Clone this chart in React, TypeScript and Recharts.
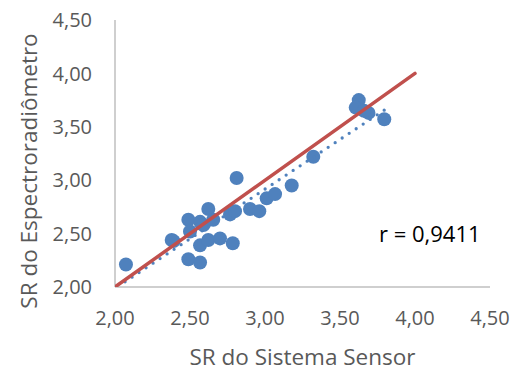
import React from 'react';
import { ScatterChart, Scatter, XAxis, YAxis, Label } from 'recharts';

const sensorX = [
  2.073, 2.378, 2.39, 2.489, 2.5, 2.567, 2.589, 2.622, 2.655, 2.567, 2.622, 2.7, 2.785, 2.489,
  2.567, 2.811, 2.767, 2.8, 2.9, 2.962, 3.011, 3.067, 3.178, 3.322, 3.625, 3.605, 3.69, 3.66, 3.795,
];
const spectroY = [
  2.21, 2.44, 2.43, 2.63, 2.52, 2.61, 2.58, 2.73, 2.63, 2.39, 2.44, 2.455, 2.41, 2.26,
  2.23, 3.02, 2.68, 2.71, 2.73, 2.71, 2.83, 2.87, 2.95, 3.22, 3.75, 3.68, 3.63, 3.65, 3.57,
];
const axisTicks = [2, 2.5, 3, 3.5, 4, 4.5];
const identityX = [2, 4];
const identityY = [2, 4];
const trendX = [2.067, 3.795];
const trendY = [2.049, 3.656];
const xTitle = 'SR do Sistema Sensor';
const yTitle = 'SR do Espectroradiômetro';
const correlationLabel = 'r = 0,9411';

const points = sensorX.map((x, i) => ({ x, y: spectroY[i] }));
const identity = identityX.map((x, i) => ({ x, y: identityY[i] }));
const trend = trendX.map((x, i) => ({ x, y: trendY[i] }));

const FONT = '"Open Sans", sans-serif';
const fmt = (v: number) => v.toFixed(2).replace('.', ',');

const Dot = (props: any) => <circle cx={props.cx} cy={props.cy} r={7} fill="#4F81BD" />;
const NoShape = () => <g />;

export default function App() {
  return (
    <div style={{ position: 'absolute', left: 0, top: 0, fontFamily: FONT }}>
      <ScatterChart width={526} height={376} margin={{ top: 20, right: 36, left: 0, bottom: 0 }}>
        <XAxis
          type="number"
          dataKey="x"
          domain={[2, 4.5]}
          ticks={axisTicks}
          tickFormatter={fmt}
          height={89}
          tickLine={false}
          tickSize={0}
          tickMargin={24}
          axisLine={{ stroke: '#BFBFBF', strokeWidth: 1.5 }}
          tick={{ fill: '#595959', fontSize: 20, fontFamily: FONT }}
          allowDataOverflow
        >
          <Label
            content={() => (
              <g>
                <text x={302.5} y={365} textAnchor="middle" fill="#595959" fontSize={22.5} fontFamily={FONT}>
                  {xTitle}
                </text>
                <text x={379} y={242} textAnchor="start" fill="#000000" fontSize={22} fontFamily={FONT}>
                  {correlationLabel}
                </text>
              </g>
            )}
          />
        </XAxis>
        <YAxis
          type="number"
          dataKey="y"
          domain={[2, 4.5]}
          ticks={axisTicks}
          tickFormatter={fmt}
          width={115}
          tickLine={false}
          tickSize={0}
          tickMargin={23}
          axisLine={{ stroke: '#BFBFBF', strokeWidth: 1.5 }}
          tick={{ fill: '#595959', fontSize: 20, fontFamily: FONT }}
          allowDataOverflow
        >
          <Label
            content={() => (
              <text
                x={0}
                y={0}
                transform="translate(36.5,171) rotate(-90)"
                textAnchor="middle"
                fill="#595959"
                fontSize={22.5}
                fontFamily={FONT}
              >
                {yTitle}
              </text>
            )}
          />
        </YAxis>
        <Scatter data={points} shape={Dot} isAnimationActive={false} />
        <Scatter
          data={trend}
          shape={NoShape}
          line={{ stroke: '#4F81BD', strokeWidth: 3.3, strokeDasharray: '0 8.4', strokeLinecap: 'round' }}
          isAnimationActive={false}
        />
        <Scatter
          data={identity}
          shape={NoShape}
          line={{ stroke: '#C0504D', strokeWidth: 3.5, strokeLinecap: 'round' }}
          isAnimationActive={false}
        />
      </ScatterChart>
    </div>
  );
}
